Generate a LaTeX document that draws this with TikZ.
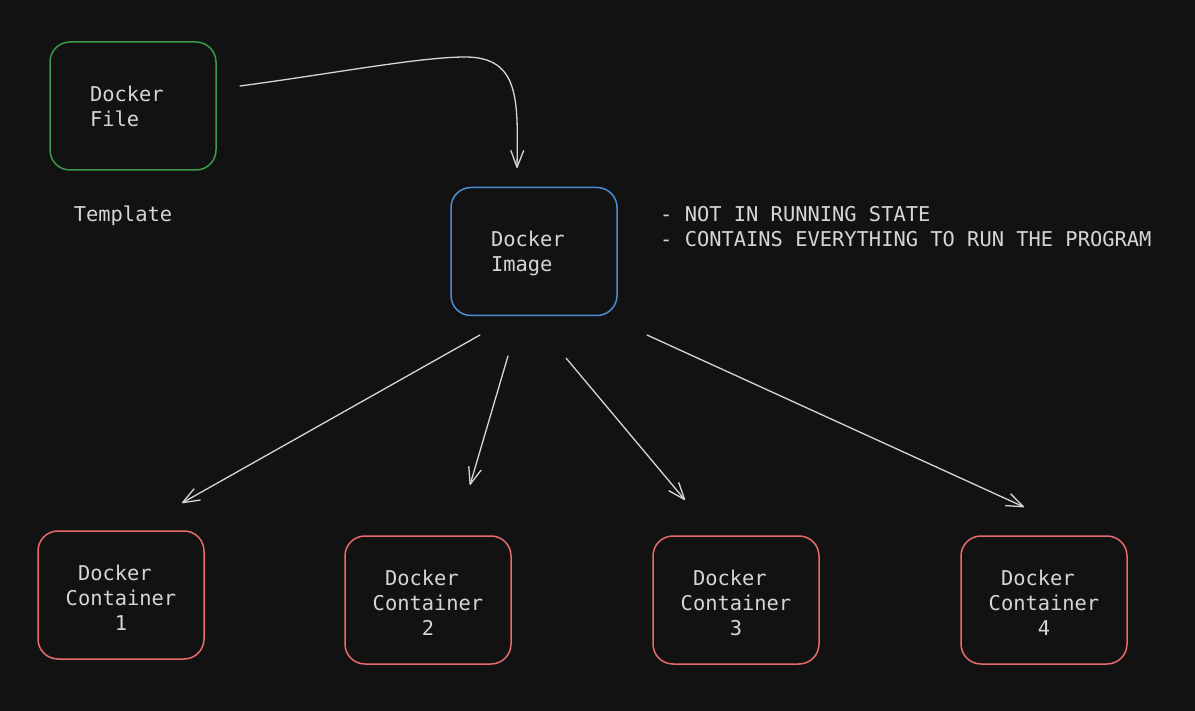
\documentclass[tikz,border=0pt]{standalone}
\usepackage{fontspec}
\setmonofont{DejaVu Sans Mono}
\usetikzlibrary{arrows.meta}
\definecolor{bg}{HTML}{121212}
\definecolor{ink}{HTML}{D6D6D6}
\definecolor{fileclr}{HTML}{3A9A48}
\definecolor{imgclr}{HTML}{4A8FD4}
\definecolor{boxclr}{HTML}{E86A6A}
\tikzset{
    lbl/.style={text=ink, font=\ttfamily\fontsize{20.4}{25}\selectfont},
    lower/.style={execute at begin node={\rule{0pt}{#1}}},
    box/.style={lbl, draw, line width=1.5pt, rounded corners=20pt,
        minimum height=128pt, inner ysep=0pt},
    leftbox/.style={box, inner xsep=40pt, text width=86pt, align=left},
    ctrbox/.style={box, draw=boxclr, inner xsep=20pt, text width=126pt, align=center, lower=21.5pt},
    arr/.style={draw=ink, line width=1.3pt, line cap=round,
        -{Straight Barb[length=17pt,width=13pt,line join=round]}}
}
\begin{document}
\begin{tikzpicture}[x=1pt,y=-1pt]
    \fill[bg] (0,0) rectangle (1195,711);
    \useasboundingbox (0,0) rectangle (1195,711);
    \node[leftbox, draw=fileclr] (F) at (133,106) {Docker\\File};
    \node[lbl] (T) at (123,216) {Template};
    \node[leftbox, draw=imgclr, lower=19.5pt] (I) at (534,251.5) {Docker\\Image};
    \node[lbl, anchor=west, align=left, inner sep=0pt] (N) at (660,226.5)
        {- NOT IN RUNNING STATE\\- CONTAINS EVERYTHING TO RUN THE PROGRAM};
    \node[ctrbox] (C1) at (121,595) {Docker\phantom{x}\\Container\\1};
    \node[ctrbox] (C2) at (428,600) {Docker\phantom{x}\\Container\\2};
    \node[ctrbox] (C3) at (736,600) {Docker\phantom{x}\\Container\\3};
    \node[ctrbox] (C4) at (1044,600) {Docker\phantom{x}\\Container\\4};
    \coordinate (F0) at (240,86);
    \coordinate (F1) at (465,57);
    \coordinate (I0) at (517,168);
    \coordinate (A0) at (480,335);
    \coordinate (A1) at (182,503);
    \coordinate (B0) at (508,356);
    \coordinate (B1) at (470,485);
    \coordinate (D0) at (566,358);
    \coordinate (D1) at (685,500);
    \coordinate (E0) at (647,335);
    \coordinate (E1) at (1024,507);
    \draw[arr] (F0) .. controls (330,74) and (420,57) .. (F1)
        .. controls (520,57) and (518,100) .. (I0);
    \draw[arr] (A0) -- (A1);
    \draw[arr] (B0) -- (B1);
    \draw[arr] (D0) -- (D1);
    \draw[arr] (E0) -- (E1);
\end{tikzpicture}
\end{document}
